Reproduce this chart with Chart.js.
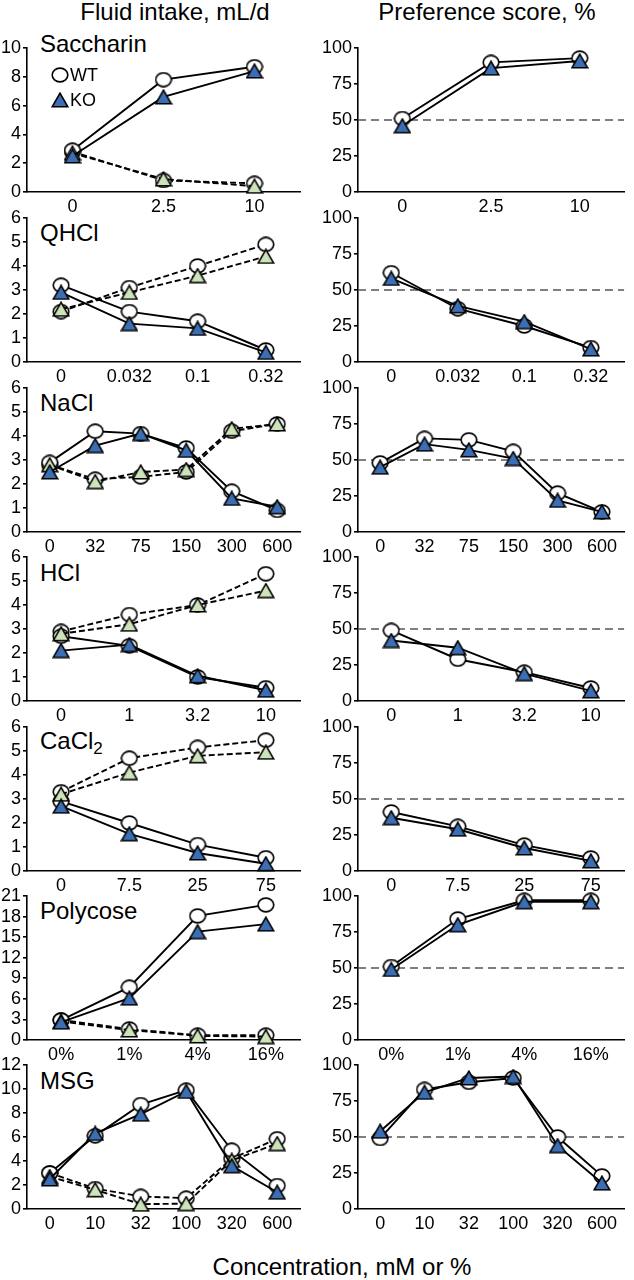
<!DOCTYPE html>
<html>
<head>
<meta charset="utf-8">
<script src="https://cdn.jsdelivr.net/npm/chart.js@4.4.1/dist/chart.umd.min.js"></script>
<style>
  body { margin: 0; background: #fff; width: 634px; height: 1280px; position: relative; overflow: hidden;
         font-family: "Liberation Sans", Arial, sans-serif; color: #000; }
  canvas { position: absolute; }
  .hdr { position: absolute; font-size: 24px; line-height: 24px; white-space: nowrap; transform: translateX(-50%); }
  .name { position: absolute; left: 40px; font-size: 24px; line-height: 24px; white-space: nowrap; }
  .name sub { font-size: 17px; vertical-align: -5px; line-height: 0; }
</style>
</head>
<body>
<div class="hdr" style="left:175px; top:0px">Fluid intake, mL/d</div>
<div class="hdr" style="left:487px; top:0px">Preference score, %</div>
<div class="hdr" style="left:342px; top:1255px">Concentration, mM or %</div>

<div class="name" style="top:32px">Saccharin</div>
<div class="name" style="top:221px">QHCl</div>
<div class="name" style="top:391px">NaCl</div>
<div class="name" style="top:561px">HCl</div>
<div class="name" style="top:729px">CaCl<sub>2</sub></div>
<div class="name" style="top:899px">Polycose</div>
<div class="name" style="top:1069px">MSG</div>

<script>
// group names
const SERIES = ["WT", "KO"];
const PREF_CHANCE = 50;

// saccharin
const sacCats = ["0", "2.5", "10"];
const sacWtTaste = [2.9, 7.8, 8.7];
const sacKoTaste = [2.5, 6.6, 8.4];
const sacWtWater = [2.8, 0.8, 0.6];
const sacKoWater = [2.7, 0.9, 0.4];
const sacWtPref = [51, 90, 93];
const sacKoPref = [46, 86, 91];

// QHCl
const qCats = ["0", "0.032", "0.1", "0.32"];
const qWtTaste = [3.2, 2.1, 1.7, 0.5];
const qKoTaste = [2.9, 1.6, 1.4, 0.4];
const qWtWater = [2.1, 3.1, 4.0, 4.9];
const qKoWater = [2.2, 2.9, 3.6, 4.4];
const qWtPref = [62, 37, 25, 10];
const qKoPref = [58, 39, 28, 9];

// NaCl
const naCats = ["0", "32", "75", "150", "300", "600"];
const naWtTaste = [2.9, 4.2, 4.1, 3.5, 1.7, 0.9];
const naKoTaste = [2.5, 3.6, 4.1, 3.4, 1.4, 1.05];
const naWtWater = [2.8, 2.2, 2.3, 2.5, 4.2, 4.5];
const naKoWater = [2.8, 2.1, 2.5, 2.6, 4.3, 4.5];
const naWtPref = [48, 65, 64, 56, 27, 14];
const naKoPref = [45, 61, 57, 51, 22, 14];

// HCl
const hCats = ["0", "1", "3.2", "10"];
const hWtTaste = [2.7, 2.3, 1.0, 0.55];
const hKoTaste = [2.1, 2.35, 1.05, 0.45];
const hWtWater = [2.9, 3.6, 4.0, 5.3];
const hKoWater = [2.8, 3.2, 4.0, 4.6];
const hWtPref = [49, 29, 20, 9];
const hKoPref = [42, 37, 19, 7];

// CaCl2
const caCats = ["0", "7.5", "25", "75"];
const caWtTaste = [2.9, 2.0, 1.1, 0.55];
const caKoTaste = [2.7, 1.55, 0.75, 0.3];
const caWtWater = [3.3, 4.7, 5.15, 5.45];
const caKoWater = [3.2, 4.1, 4.8, 4.95];
const caWtPref = [41, 31, 18, 9];
const caKoPref = [37, 29, 16, 7];

// Polycose
const polyCats = ["0%", "1%", "4%", "16%"];
const polyWtTaste = [2.9, 7.7, 18.1, 19.7];
const polyKoTaste = [2.6, 6.1, 15.8, 16.9];
const polyWtWater = [2.9, 1.6, 0.7, 0.7];
const polyKoWater = [2.7, 1.45, 0.6, 0.5];
const polyWtPref = [51, 84, 97, 97];
const polyKoPref = [49, 80, 96, 96];

// MSG
const msgCats = ["0", "10", "32", "100", "320", "600"];
const msgWtTaste = [3.0, 6.1, 8.7, 9.9, 4.9, 1.95];
const msgKoTaste = [2.5, 6.3, 7.9, 9.8, 3.6, 1.4];
const msgWtWater = [3.0, 1.7, 1.05, 0.9, 4.2, 5.85];
const msgKoWater = [2.7, 1.6, 0.4, 0.45, 4.05, 5.45];
const msgWtPref = [49, 83, 88, 91, 50, 23];
const msgKoPref = [54, 81, 91, 92, 44, 18];

// y ranges of the intake panels
const intakeMax = [10, 6, 6, 6, 6, 21, 12];
const intakeStep = [2, 1, 1, 1, 1, 3, 2];

const FONT = "'Liberation Sans', Arial, sans-serif";
const BLUE = "#3c6eb4";
const GREEN = "#cde3b8";
const ROW_TOP = [48, 218, 388, 557, 727, 896, 1065];
const PLOT_H = 144;

Chart.defaults.font.family = FONT;
Chart.defaults.color = "#000";

function makeMarker(kind, fill) {
    const c = document.createElement("canvas");
    c.width = 18; c.height = 16;
    const g = c.getContext("2d");
    g.fillStyle = fill;
    g.strokeStyle = "#000";
    g.lineWidth = 1.6;
    g.beginPath();
    if (kind === "circle") {
        g.ellipse(9, 8, 7.8, 6.9, 0, 0, Math.PI * 2);
    } else {
        g.moveTo(9, 1.2);
        g.lineTo(16.7, 14.7);
        g.lineTo(1.3, 14.7);
        g.closePath();
    }
    g.fill();
    g.stroke();
    return c;
}
const circleMark = makeMarker("circle", "#fff");
const blueTri = makeMarker("tri", BLUE);
const greenTri = makeMarker("tri", GREEN);

function series(label, data, marker, dashed, order) {
    return {
        label, data, order,
        pointStyle: marker,
        pointRadius: 8,
        borderColor: "#000",
        borderWidth: 1.9,
        borderDash: dashed ? [6, 3] : [],
        backgroundColor: "#fff",
        fill: false,
        tension: 0,
        clip: false,
    };
}

// dashed 50% line for the preference panels
const chanceLine = {
    id: "chanceLine",
    beforeDatasetsDraw(chart, args, opts) {
        if (!opts.show) return;
        const { ctx, chartArea } = chart;
        const y = chart.scales.y.getPixelForValue(PREF_CHANCE);
        ctx.save();
        ctx.strokeStyle = "#555";
        ctx.lineWidth = 1.6;
        ctx.setLineDash([8, 5]);
        ctx.beginPath();
        ctx.moveTo(chartArea.left, y);
        ctx.lineTo(chartArea.right, y);
        ctx.stroke();
        ctx.restore();
    }
};

// WT / KO key inside the saccharin panel
const keyBox = {
    id: "keyBox",
    afterDraw(chart, args, opts) {
        if (!opts.show) return;
        const { ctx, chartArea } = chart;
        const marks = [circleMark, blueTri];
        ctx.save();
        ctx.font = "18px " + FONT;
        ctx.fillStyle = "#000";
        ctx.textBaseline = "middle";
        SERIES.forEach((name, i) => {
            const cy = chartArea.top + 27 + i * 25;
            ctx.drawImage(marks[i], chartArea.left + 33 - 9, cy - 8);
            ctx.fillText(name, chartArea.left + 43, cy + 1);
        });
        ctx.restore();
    }
};

function axes(cats, max, step, yWidth) {
    return {
        x: {
            type: "category",
            labels: cats,
            offset: true,
            ticks: { font: { size: 18 }, padding: 4, maxRotation: 0, autoSkip: false, color: "#000" },
            grid: { display: false, drawTicks: false },
            border: { display: true, color: "#000", width: 1.6 },
            afterFit: s => { s.height = 30; },
        },
        y: {
            min: 0, max: max,
            ticks: { stepSize: step, font: { size: 18, lineHeight: 1 }, padding: 2, autoSkip: false, color: "#000" },
            grid: { display: true, drawOnChartArea: false, drawTicks: true, tickLength: 4, color: "#000", lineWidth: 1.6 },
            border: { display: true, color: "#000", width: 1.6 },
            afterFit: s => { s.width = yWidth; },
        },
    };
}

function addCanvas(left, top, w, h) {
    const c = document.createElement("canvas");
    c.width = w; c.height = h;
    c.style.left = left + "px";
    c.style.top = top + "px";
    c.style.width = w + "px";
    c.style.height = h + "px";
    document.body.appendChild(c);
    return c;
}

function intakeChart(row, cats, wtTaste, koTaste, wtWater, koWater) {
    const c = addCanvas(0, ROW_TOP[row] - 12, 310, 12 + PLOT_H + 30);
    new Chart(c, {
        type: "line",
        data: {
            labels: cats,
            datasets: [
                series("WT tastant", wtTaste, circleMark, false, 2),
                series("WT water", wtWater, circleMark, true, 2),
                series("KO tastant", koTaste, blueTri, false, 1),
                series("KO water", koWater, greenTri, true, 1),
            ]
        },
        options: {
            responsive: false,
            animation: false,
            devicePixelRatio: 1,
            layout: { padding: { top: 12, right: 10, left: 0, bottom: 0 } },
            scales: axes(cats, intakeMax[row], intakeStep[row], 27),
            plugins: {
                legend: { display: false },
                tooltip: { enabled: false },
                keyBox: { show: row === 0 },
                chanceLine: { show: false },
            }
        },
        plugins: [chanceLine, keyBox]
    });
}

function prefChart(row, cats, wt, ko) {
    const c = addCanvas(320, ROW_TOP[row] - 12, 314, 12 + PLOT_H + 30);
    new Chart(c, {
        type: "line",
        data: {
            labels: cats,
            datasets: [
                series("WT", wt, circleMark, false, 2),
                series("KO", ko, blueTri, false, 1),
            ]
        },
        options: {
            responsive: false,
            animation: false,
            devicePixelRatio: 1,
            layout: { padding: { top: 12, right: 1, left: 0, bottom: 0 } },
            scales: axes(cats, 100, 25, 38),
            plugins: {
                legend: { display: false },
                tooltip: { enabled: false },
                keyBox: { show: false },
                chanceLine: { show: true },
            }
        },
        plugins: [chanceLine, keyBox]
    });
}

intakeChart(0, sacCats, sacWtTaste, sacKoTaste, sacWtWater, sacKoWater);
intakeChart(1, qCats, qWtTaste, qKoTaste, qWtWater, qKoWater);
intakeChart(2, naCats, naWtTaste, naKoTaste, naWtWater, naKoWater);
intakeChart(3, hCats, hWtTaste, hKoTaste, hWtWater, hKoWater);
intakeChart(4, caCats, caWtTaste, caKoTaste, caWtWater, caKoWater);
intakeChart(5, polyCats, polyWtTaste, polyKoTaste, polyWtWater, polyKoWater);
intakeChart(6, msgCats, msgWtTaste, msgKoTaste, msgWtWater, msgKoWater);

prefChart(0, sacCats, sacWtPref, sacKoPref);
prefChart(1, qCats, qWtPref, qKoPref);
prefChart(2, naCats, naWtPref, naKoPref);
prefChart(3, hCats, hWtPref, hKoPref);
prefChart(4, caCats, caWtPref, caKoPref);
prefChart(5, polyCats, polyWtPref, polyKoPref);
prefChart(6, msgCats, msgWtPref, msgKoPref);
</script>
</body>
</html>
